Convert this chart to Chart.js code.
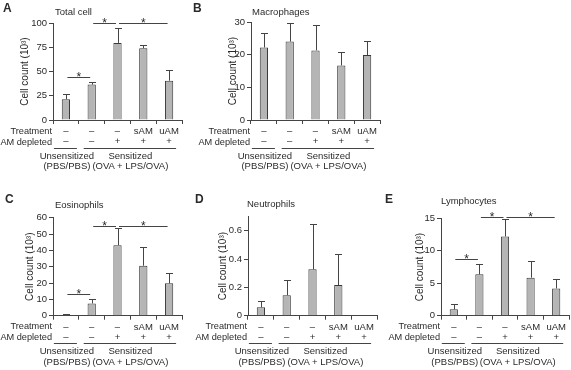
<!DOCTYPE html>
<html><head><meta charset="utf-8">
<script src="https://cdn.jsdelivr.net/npm/chart.js@4.4.0/dist/chart.umd.min.js"></script>
<style>
html,body{margin:0;padding:0;background:#fff;}
#wrap{position:relative;width:571px;height:370px;overflow:hidden;font-family:"Liberation Sans",Arial,sans-serif;color:#2a2a2a;}
canvas{position:absolute;left:0;top:0;}
.t{position:absolute;white-space:nowrap;line-height:1;font-size:9.5px;}
.r{font-size:9.2px;}
.L{font-weight:bold;font-size:12px;}
</style></head><body><div id="wrap"></div>
<script>
// ---------- data ----------
const treatmentLabels = ['–', '–', '–', 'sAM', 'uAM'];
const amDepletedLabels = ['–', '–', '+', '+', '+'];

const totalCellMean = [21.5, 36.5, 79.5, 74, 40.5];
const totalCellErr  = [5.5, 3, 15.5, 3.5, 11];
const totalCellSig  = [[0, 1, 44.3], [1, 2, 100], [2, 4, 100]];

const macrophageMean = [22.2, 24, 21.3, 16.7, 19.9];
const macrophageErr  = [4.3, 5.6, 7.8, 4, 4.4];

const eosinophilMean = [0.5, 7.5, 43.2, 30.6, 19.8];
const eosinophilErr  = [0.3, 2.5, 10.2, 11.4, 6.5];
const eosinophilSig  = [[0, 1, 13.3], [1, 2, 55.1], [2, 4, 55.1]];

const neutrophilMean = [0.059, 0.144, 0.327, 0.216, 0];
const neutrophilErr  = [0.047, 0.108, 0.32, 0.217, 0];

const lymphocyteMean = [0.98, 6.37, 12.2, 5.86, 4.2];
const lymphocyteErr  = [0.77, 1.6, 2.7, 2.55, 1.4];
const lymphocyteSig  = [[0, 1, 8.7], [1, 2, 15.2], [2, 4, 15.2]];

const yAxisTitle = 'Cell count (10³)';
const groupLine1 = ['Unsensitized', 'Sensitized'];
const groupLine2 = ['(PBS/PBS)', '(OVA + LPS/OVA)'];

// ---------- layout ----------
const panels = [
  {letter:'A', title:'Total cell', mean: totalCellMean, err: totalCellErr, sig: totalCellSig, yMax:100, yStep:25,
   box:{left:53, right:182, top:23, bottom:120}, letterPos:[3,8], titlePos:[55,12], yTitlePad:6},
  {letter:'B', title:'Macrophages', mean: macrophageMean, err: macrophageErr, sig: [], yMax:30, yStep:10,
   box:{left:251, right:380, top:22, bottom:120}, letterPos:[193,8], titlePos:[252,12], yTitlePad:16},
  {letter:'C', title:'Eosinophils', mean: eosinophilMean, err: eosinophilErr, sig: eosinophilSig, yMax:60, yStep:10,
   box:{left:53, right:182, top:217.7, bottom:315.7}, letterPos:[5,199], titlePos:[55,205], yTitlePad:11},
  {letter:'D', title:'Neutrophils', mean: neutrophilMean, err: neutrophilErr, sig: [], yMax:0.7, yStep:0.1, half:true,
   box:{left:248, right:377, top:216.5, bottom:315.7}, letterPos:[195,199], titlePos:[247,204], yTitlePad:9},
  {letter:'E', title:'Lymphocytes', mean: lymphocyteMean, err: lymphocyteErr, sig: lymphocyteSig, yMax:15, yStep:5,
   box:{left:441, right:569, top:218.3, bottom:315.7}, letterPos:[385,199], titlePos:[441,201], yTitlePad:13}
];

Chart.defaults.font.family = '"Liberation Sans", Arial, sans-serif';
Chart.defaults.color = '#2a2a2a';
const AX = '#444';
const W = 571, H = 370, YW = 40, XH = 30;
const wrap = document.getElementById('wrap');

const extras = {
  id: 'extras',
  afterDatasetsDraw(chart) {
    const p = chart.options.plugins.extras;
    const ctx = chart.ctx, xs = chart.scales.x, ys = chart.scales.y;
    const meta = chart.getDatasetMeta(0);
    ctx.save();
    ctx.strokeStyle = AX; ctx.lineWidth = 1;
    meta.data.forEach((bar, i) => {
      const m = p.mean[i], e = p.err[i];
      if (!e) return;
      const xc = Math.round(bar.x) + 0.5;
      const y0 = ys.getPixelForValue(m);
      const y1 = Math.round(ys.getPixelForValue(m + e)) + 0.5;
      ctx.beginPath();
      ctx.moveTo(xc, y0); ctx.lineTo(xc, y1);
      ctx.moveTo(xc - 3.5, y1); ctx.lineTo(xc + 3.5, y1);
      ctx.stroke();
    });
    ctx.fillStyle = '#2a2a2a';
    ctx.font = '12px "Liberation Sans", Arial, sans-serif';
    ctx.textAlign = 'center'; ctx.textBaseline = 'alphabetic';
    p.sig.forEach(([a, b, v]) => {
      const xa = xs.getPixelForValue(a) + 1.5, xb = xs.getPixelForValue(b) - 1.5;
      const yy = Math.round(ys.getPixelForValue(v)) + 0.5;
      ctx.beginPath(); ctx.moveTo(xa, yy); ctx.lineTo(xb, yy); ctx.stroke();
      ctx.fillText('*', (xa + xb) / 2, yy + 3);
    });
    const c = i => xs.getPixelForValue(i);
    const gy = Math.round(chart.chartArea.bottom + 27.5) + 0.5;
    ctx.beginPath();
    ctx.moveTo(c(0) - 12, gy); ctx.lineTo(c(0) + 11, gy);
    ctx.moveTo(c(1) - 8, gy); ctx.lineTo(c(4) + 7, gy);
    ctx.stroke();
    ctx.restore();
  }
};

function addText(txt, x, cy, align, cls) {
  const d = document.createElement('div');
  d.className = 't' + (cls ? ' ' + cls : '');
  d.textContent = txt;
  const tx = align === 'right' ? '-100%' : align === 'center' ? '-50%' : '0';
  d.style.left = x + 'px';
  d.style.top = cy + 'px';
  d.style.transform = 'translate(' + tx + ',-50%)';
  wrap.appendChild(d);
}

const xLabels = treatmentLabels.map((t, i) => [t, amDepletedLabels[i]]);

panels.forEach(p => {
  const cv = document.createElement('canvas');
  cv.width = W; cv.height = H;
  cv.style.width = W + 'px'; cv.style.height = H + 'px';
  wrap.appendChild(cv);
  const b = p.box;
  const chart = new Chart(cv, {
    type: 'bar',
    data: { labels: xLabels, datasets: [{ data: p.mean, backgroundColor: '#b5b5b5', borderColor: '#383838',
      borderWidth: 1, barPercentage: 0.32, categoryPercentage: 1 }] },
    options: {
      responsive: false, animation: false, events: [],
      layout: { padding: { left: b.left - YW, right: W - b.right, top: b.top, bottom: H - b.bottom - XH } },
      plugins: { legend: { display: false }, tooltip: { enabled: false }, title: { display: false },
        extras: { mean: p.mean, err: p.err, sig: p.sig } },
      scales: {
        x: {
          offset: true,
          grid: { offset: true, drawOnChartArea: false, drawTicks: true, tickLength: 4, color: AX },
          border: { color: AX },
          ticks: { font: { size: 9.5, lineHeight: 1.1 }, padding: 2, maxRotation: 0, autoSkip: false },
          afterFit(s) { s.height = XH; }
        },
        y: {
          min: 0, max: p.yMax,
          grid: { drawOnChartArea: false, drawTicks: true, tickLength: 4, color: AX },
          border: { color: AX },
          ticks: { stepSize: p.yStep, font: { size: 9.5 }, padding: 2,
            callback: p.half ? (v => { const r = Math.round(v * 10); return r % 2 === 0 ? String(r / 10) : ''; })
                             : (v => String(Math.round(v * 100) / 100)) },
          title: { display: true, text: yAxisTitle, font: { size: 10 }, padding: { top: p.yTitlePad, bottom: 0 } },
          afterFit(s) { s.width = YW; }
        }
      }
    },
    plugins: [extras]
  });
  const ca = chart.chartArea, xs = chart.scales.x;
  const c0 = xs.getPixelForValue(0), c1 = xs.getPixelForValue(1), c4 = xs.getPixelForValue(4);
  addText(p.letter, p.letterPos[0], p.letterPos[1], 'left', 'L');
  addText(p.title, p.titlePos[0], p.titlePos[1], 'left');
  addText('Treatment', ca.left - 1, ca.bottom + 11.5, 'right', 'r');
  addText('AM depleted', ca.left - 1, ca.bottom + 22.5, 'right', 'r');
  addText(groupLine1[0], c0 + 1, ca.bottom + 35.5, 'center');
  addText(groupLine1[1], (c1 + c4) / 2, ca.bottom + 35.5, 'center');
  addText(groupLine2[0], c0 + 1, ca.bottom + 46, 'center');
  addText(groupLine2[1], (c1 + c4) / 2, ca.bottom + 46, 'center');
});
</script></body></html>
